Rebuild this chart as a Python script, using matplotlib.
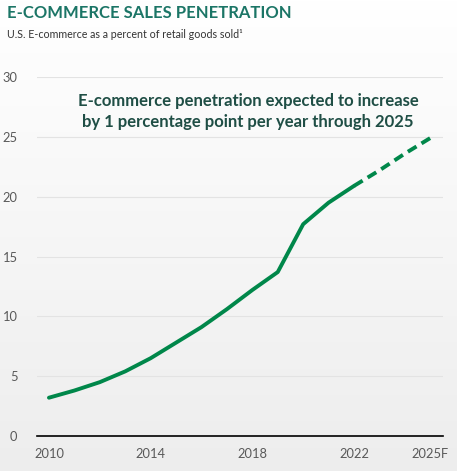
import numpy as np
import matplotlib
matplotlib.use("Agg")
import matplotlib.pyplot as plt

years_actual = [2010, 2011, 2012, 2013, 2014, 2015, 2016, 2017, 2018, 2019, 2020, 2021, 2022]
pct_actual = [3.2, 3.8, 4.5, 5.4, 6.5, 7.8, 9.1, 10.6, 12.2, 13.7, 17.7, 19.5, 20.9]
years_forecast = [2022, 2023, 2024, 2025]
pct_forecast = [20.9, 22.2, 23.6, 24.9]
xtick_pos = [2010, 2014, 2018, 2022, 2025]
xtick_labels = ["2010", "2014", "2018", "2022", "2025F"]
yticks = [0, 5, 10, 15, 20, 25, 30]

font = "Lato"
green = "#00874a"

fig = plt.figure(figsize=(4.57, 4.71), dpi=100)

# background gradient
bg = fig.add_axes([0, 0, 1, 1], zorder=-10)
grad = np.linspace(1.0, 0.93, 256).reshape(-1, 1)
bg.imshow(np.dstack([grad, grad, grad]), aspect="auto", extent=[0, 1, 0, 1])
bg.axis("off")

W, H = 457, 471
left, right = 37 / W, 443 / W
y0, y30 = 436, 77
ax = fig.add_axes([left, 1 - y0 / H, right - left, (y0 - y30) / H])
ax.set_facecolor("none")
ax.set_xlim(2009.53, 2025.5)
ax.set_ylim(0, 30)

for s in ["top", "right", "left"]:
    ax.spines[s].set_visible(False)
ax.spines["bottom"].set_color("black")
ax.spines["bottom"].set_linewidth(1.2)

ax.set_yticks(yticks)
ax.set_yticklabels([str(v) for v in yticks])
ax.set_xticks(xtick_pos)
ax.set_xticklabels(xtick_labels)
ax.tick_params(axis="both", length=0, colors="#595959", labelsize=9.3)
ax.tick_params(axis="y", pad=14)
ax.tick_params(axis="x", pad=9)
for lab in ax.get_xticklabels() + ax.get_yticklabels():
    lab.set_fontfamily(font)

for v in yticks[1:]:
    ax.axhline(v, color="#e3e3e3", lw=0.8, zorder=0)

ax.plot(years_actual, pct_actual, color=green, lw=2.8, solid_capstyle="round", zorder=3)
ax.plot(years_forecast, pct_forecast, color=green, lw=2.8, ls=(0, (2.6, 1.5)), zorder=3)

fig.text(7 / W, 1 - 13 / H, "E-COMMERCE SALES PENETRATION", fontsize=12, fontweight="bold",
         color="#1b7566", fontfamily=font, va="center", ha="left")
fig.text(7 / W, 1 - 35 / H, "U.S. E-commerce as a percent of retail goods sold\u00b9", fontsize=7.7,
         color="#333333", fontfamily=font, va="center", ha="left")

fig.text(248 / W, 1 - 111.5 / H,
         "E-commerce penetration expected to increase\nby 1 percentage point per year through 2025",
         fontsize=12, fontweight="bold", color="#1f4e45", fontfamily=font,
         ha="center", va="center", linespacing=1.35)

fig.savefig("out.png", dpi=100)
